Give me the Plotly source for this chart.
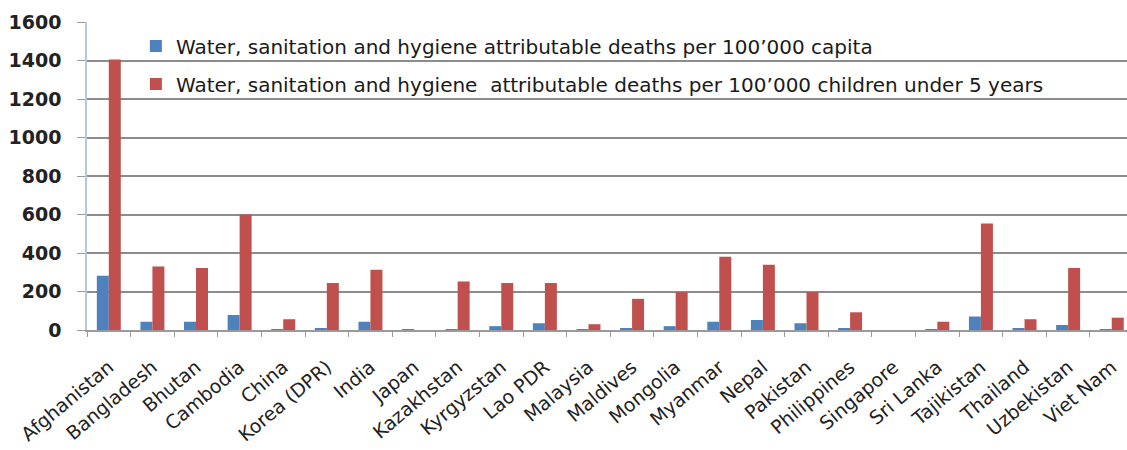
import plotly.graph_objects as go

countries = [
    "Afghanistan", "Bangladesh", "Bhutan", "Cambodia", "China", "Korea (DPR)",
    "India", "Japan", "Kazakhstan", "Kyrgyzstan", "Lao PDR", "Malaysia",
    "Maldives", "Mongolia", "Myanmar", "Nepal", "Pakistan", "Philippines",
    "Singapore", "Sri Lanka", "Tajikistan", "Thailand", "Uzbekistan", "Viet Nam",
]
# WSH attributable deaths per 100'000 capita
per_capita = [282, 43, 43, 78, 3, 6, 43, 2, 5, 20, 35, 3,
              8, 20, 43, 52, 35, 8, 0, 3, 70, 8, 26, 5]
# WSH attributable deaths per 100'000 children under 5
per_child = [1405, 330, 322, 600, 56, 244, 313, 0, 252, 244, 244, 30,
             162, 197, 380, 339, 197, 92, 0, 43, 553, 56, 322, 64]

series_names = [
    "Water, sanitation and hygiene attributable deaths per 100\u2019000 capita",
    "Water, sanitation and hygiene\u00a0 attributable deaths per 100\u2019000 children under 5 years",
]
y_ticks = [0, 200, 400, 600, 800, 1000, 1200, 1400, 1600]

BLUE = "#4F81BD"
RED = "#C0504D"

fig = go.Figure()
fig.add_trace(go.Bar(x=countries, y=per_capita, name=series_names[0],
                     legendgroup="a",
                     marker=dict(color=BLUE, line=dict(width=0))))
fig.add_trace(go.Bar(x=countries, y=per_child, name=series_names[1],
                     legendgroup="b",
                     marker=dict(color=RED, line=dict(width=0))))

fig.update_layout(
    width=1127, height=450,
    margin=dict(l=87, r=0, t=22, b=120),
    paper_bgcolor="white", plot_bgcolor="white",
    barmode="group", bargap=0.45, bargroupgap=0,
    font=dict(family="DejaVu Sans", color="#222222"),
    legend=dict(
        x=0.047, y=0.985, xanchor="left", yanchor="top",
        bgcolor="rgba(0,0,0,0)", font=dict(size=20, color="#1a1a1a"),
        itemwidth=30, traceorder="grouped", tracegroupgap=9,
    ),
    showlegend=True,
)
fig.update_xaxes(
    type="category", range=[-0.5, 23.35],
    tickangle=-40, tickfont=dict(size=19, color="#222222"),
    ticks="outside", tickson="boundaries", ticklen=5, tickcolor="#9a9a9a",
    ticklabelstandoff=17,
    showline=True, linecolor="#9a9a9a", linewidth=1.5,
    showgrid=False,
)
fig.update_yaxes(
    range=[0, 1600], tickvals=y_ticks,
    tickfont=dict(size=19, family="DejaVu Sans", color="#222222", weight="bold"),
    ticklabelstandoff=12,
    showgrid=True, gridcolor="#8c8c8c", gridwidth=1.5,
    showline=True, linecolor="#b8c8d8", linewidth=1.5,
    ticks="outside", ticklen=8, tickcolor="#9a9a9a",
    zeroline=False,
)

fig.write_html("out.html")
